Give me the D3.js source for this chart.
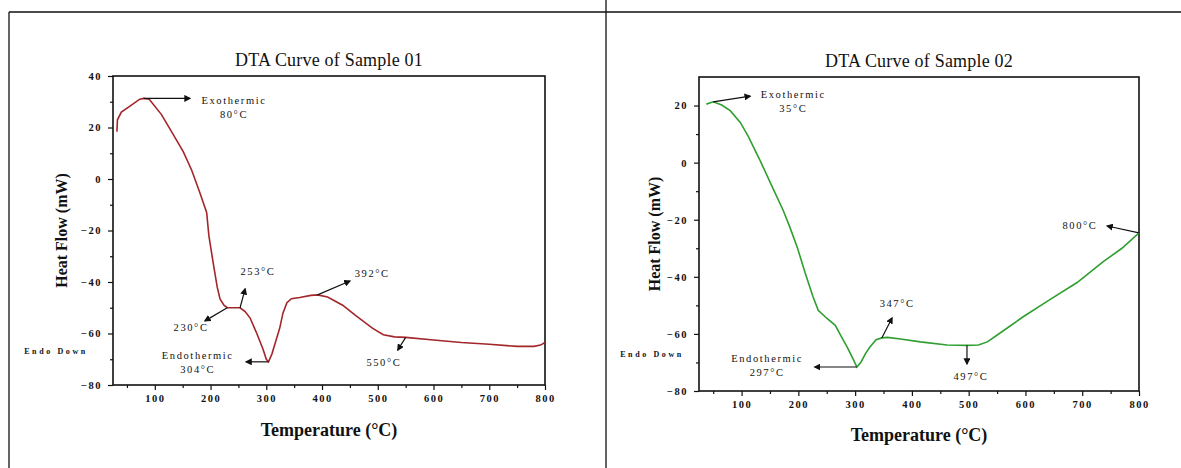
<!DOCTYPE html>
<html>
<head>
<meta charset="utf-8">
<script src="https://cdn.jsdelivr.net/npm/d3@7"></script>
<style>
body { margin: 0; background: #fff; }
text { font-family: "Liberation Serif", "Times New Roman", serif; fill: #111; }
</style>
</head>
<body>
<script>
// Sample 01 curve (temperature in °C, heat flow in mW)
const temp01 = [32, 33, 40, 58, 73, 80, 90, 112, 130, 151, 166, 181, 193, 197, 205, 212, 217, 224, 230, 253, 262, 271, 283, 294, 300, 304, 310, 317, 324, 330, 337, 345, 360, 380, 392, 410, 437, 460, 491, 510, 530, 550, 600, 650, 700, 750, 780, 792, 800]
const flow01 = [18.4, 23, 26, 28.7, 31, 31.3, 31, 25, 18.4, 10.6, 3.5, -5.4, -13, -22, -33, -42, -46.6, -49, -50, -50, -51.5, -54, -60, -66, -70, -71, -68, -63, -58, -52, -48, -46.5, -46, -45.2, -45, -45.8, -49, -53, -58, -60.5, -61.3, -61.5, -62.5, -63.5, -64.2, -65, -65, -64.5, -63.5]

// Sample 02 curve
const temp02 = [38, 50, 65, 80, 98, 112, 132, 154, 173, 185, 198, 212, 226, 235, 250, 265, 276, 286, 297, 303, 310, 318, 326, 337, 347, 357, 380, 415, 462, 497, 517, 533, 556, 596, 643, 691, 737, 770, 800]
const flow02 = [20.5, 21.3, 20.2, 18.2, 14, 9.1, 1, -8.5, -16.6, -22.6, -29.6, -38.7, -47.1, -51.7, -54.5, -57, -61, -64.6, -69, -71.6, -70, -67, -64.6, -62, -61.4, -61.2, -61.8, -62.8, -63.9, -64, -63.9, -62.8, -59.6, -54, -48, -42, -34.7, -30, -24.6]

const xTicks = [100, 200, 300, 400, 500, 600, 700, 800]
const xMinor = [50, 150, 250, 350, 450, 550, 650, 750]
const yTicks01 = [-80, -60, -40, -20, 0, 20, 40]
const yMinor01 = [-70, -50, -30, -10, 10, 30]
const yTicks02 = [-80, -60, -40, -20, 0, 20]
const yMinor02 = [-70, -50, -30, -10, 10]

// annotations: text lines, arrow from -> to, label at (all in data units)
const notes01 = [
    { lines: ["Exothermic", "80°C"], from: [80, 31.3], to: [163, 31.3], at: [242, 30.6] },
    { lines: ["230°C"], from: [230, -50], to: [190, -55.1], at: [165, -57.5] },
    { lines: ["253°C"], from: [253, -50], to: [262, -42.7], at: [285, -35.7] },
    { lines: ["392°C"], from: [392, -45], to: [450, -39.6], at: [490, -36.5] },
    { lines: ["Endothermic", "304°C"], from: [304, -71], to: [264, -71], at: [177, -68.3] },
    { lines: ["550°C"], from: [550, -61.5], to: [536, -66.4], at: [511, -71] }
]
const notes02 = [
    { lines: ["Exothermic", "35°C"], from: [50, 21.3], to: [115, 23.3], at: [191, 24] },
    { lines: ["Endothermic", "297°C"], from: [303, -71.6], to: [229, -71.6], at: [145, -68.4] },
    { lines: ["347°C"], from: [347, -61.4], to: [365, -54.4], at: [374, -49.2] },
    { lines: ["497°C"], from: [497, -64], to: [497, -70.5], at: [504, -74.7] },
    { lines: ["800°C"], from: [800, -24.6], to: [744, -22.2], at: [696, -21.9] }
]

const svg = d3.select("body").append("svg")
    .attr("width", 1181)
    .attr("height", 468)

svg.append("defs").append("marker")
    .attr("id", "head")
    .attr("viewBox", "0 0 10 10")
    .attr("refX", 8).attr("refY", 5)
    .attr("markerWidth", 7).attr("markerHeight", 7)
    .attr("markerUnits", "userSpaceOnUse")
    .attr("orient", "auto")
    .append("path")
    .attr("d", "M0,0 L10,5 L0,10 z")
    .attr("fill", "#111")

// outer frame lines
const frame = [[9, 12, 9, 468], [9, 12, 1181, 12], [606, 0, 606, 468]]
svg.selectAll("line.frame").data(frame).enter().append("line")
    .attr("class", "frame")
    .attr("x1", d => d[0]).attr("y1", d => d[1])
    .attr("x2", d => d[2]).attr("y2", d => d[3])
    .attr("stroke", "#111").attr("stroke-width", 1.3)

function panel(cfg) {
    const x = d3.scaleLinear().domain([25, 800]).range([cfg.left, cfg.right])
    const y = d3.scaleLinear().domain(cfg.yDomain).range([cfg.bottom, cfg.top])
    const g = svg.append("g")

    // minor ticks
    g.append("g").attr("transform", `translate(0,${cfg.bottom})`)
        .call(d3.axisBottom(x).tickValues(xMinor).tickSize(3).tickFormat(""))
    g.append("g").attr("transform", `translate(${cfg.left},0)`)
        .call(d3.axisLeft(y).tickValues(cfg.yMinor).tickSize(3).tickFormat(""))

    g.append("g").attr("transform", `translate(0,${cfg.bottom})`)
        .call(d3.axisBottom(x).tickValues(xTicks).tickSize(5).tickPadding(5))
    g.append("g").attr("transform", `translate(${cfg.left},0)`)
        .call(d3.axisLeft(y).tickValues(cfg.yTicks).tickSize(5).tickPadding(6))
    g.selectAll(".domain").remove()
    g.selectAll(".tick line").attr("stroke", "#111").attr("stroke-width", 1.2)
    g.selectAll(".tick text")
        .style("font-family", '"Liberation Serif", serif')
        .style("font-size", "10.5px").style("font-weight", "bold")
        .style("letter-spacing", "1.5px").attr("fill", "#222")

    g.append("rect")
        .attr("x", cfg.left).attr("y", cfg.top)
        .attr("width", cfg.right - cfg.left).attr("height", cfg.bottom - cfg.top)
        .attr("fill", "none").attr("stroke", "#111").attr("stroke-width", 1.6)

    const line = d3.line().x(d => x(d[0])).y(d => y(d[1]))
    g.append("path")
        .datum(cfg.temps.map((t, i) => [t, cfg.flows[i]]))
        .attr("d", line)
        .attr("fill", "none")
        .attr("stroke", cfg.color)
        .attr("stroke-width", 1.6)

    // arrows
    g.selectAll("line.arrow").data(cfg.notes).enter().append("line")
        .attr("x1", d => x(d.from[0])).attr("y1", d => y(d.from[1]))
        .attr("x2", d => x(d.to[0])).attr("y2", d => y(d.to[1]))
        .attr("stroke", "#111").attr("stroke-width", 1.2)
        .attr("marker-end", "url(#head)")

    const labels = g.selectAll("text.note").data(cfg.notes).enter().append("text")
        .attr("class", "note")
        .attr("text-anchor", "middle")
        .style("font-size", "10.5px")
        .style("letter-spacing", "1.6px")
    labels.selectAll("tspan").data(d => d.lines.map((s, i) => ({ s, i, d }))).enter()
        .append("tspan")
        .attr("x", d => x(d.d.at[0]))
        .attr("y", d => y(d.d.at[1]) + 4 + d.i * 14)
        .text(d => d.s)

    g.append("text")
        .attr("x", (cfg.left + cfg.right) / 2).attr("y", cfg.titleY)
        .attr("text-anchor", "middle")
        .style("font-size", "18px")
        .style("letter-spacing", "0.2px")
        .text(cfg.title)

    g.append("text")
        .attr("x", (cfg.left + cfg.right) / 2).attr("y", cfg.xLabelY)
        .attr("text-anchor", "middle")
        .style("font-size", "18px").style("font-weight", "bold")
        .text("Temperature (°C)")

    g.append("text")
        .attr("transform", `translate(${cfg.yLabelX},${(cfg.top + cfg.bottom) / 2}) rotate(-90)`)
        .attr("text-anchor", "middle")
        .style("font-size", "16px").style("font-weight", "bold")
        .text("Heat Flow (mW)")

    g.append("text")
        .attr("x", cfg.endoX).attr("y", y(cfg.endoV))
        .attr("text-anchor", "middle")
        .style("font-size", "8px").style("font-weight", "bold")
        .style("letter-spacing", "2.6px")
        .text("Endo Down")
}

panel({
    left: 113, right: 545, top: 76, bottom: 385,
    yDomain: [-80, 40], yTicks: yTicks01, yMinor: yMinor01,
    temps: temp01, flows: flow01, color: "#a3262a", notes: notes01,
    title: "DTA Curve of Sample 01", titleY: 66, xLabelY: 436, yLabelX: 67,
    endoX: 56, endoV: -68
})

panel({
    left: 699, right: 1139, top: 77, bottom: 391,
    yDomain: [-80, 30], yTicks: yTicks02, yMinor: yMinor02,
    temps: temp02, flows: flow02, color: "#2f9f2f", notes: notes02,
    title: "DTA Curve of Sample 02", titleY: 67, xLabelY: 441, yLabelX: 660,
    endoX: 652, endoV: -68
})
</script>
</body>
</html>
